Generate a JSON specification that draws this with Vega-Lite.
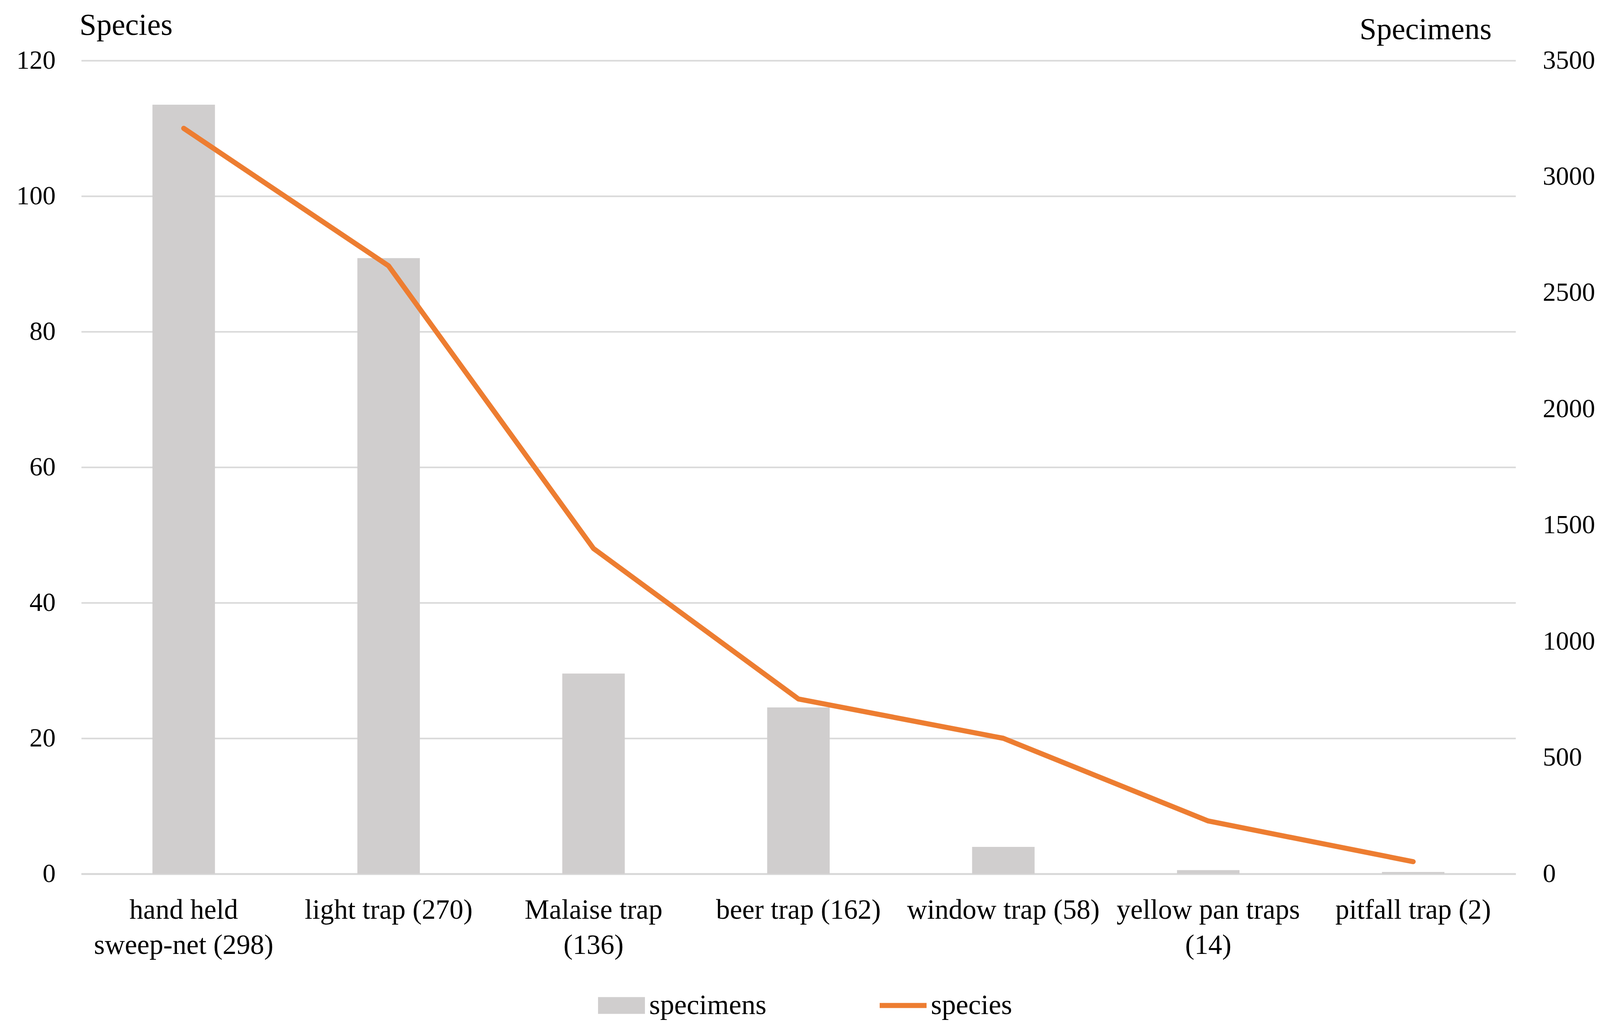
{
  "$schema": "https://vega.github.io/schema/vega-lite/v6.json",
  "width": 3672,
  "height": 2082,
  "autosize": {"type": "none"},
  "padding": {"left": 208, "top": 155, "right": 230, "bottom": 410},
  "background": "#ffffff",
  "data": {
    "values": [
      {"trap": "hand held|sweep-net (298)", "specimens": 3310, "species": 110},
      {"trap": "light trap (270)", "specimens": 2650, "species": 89.7},
      {"trap": "Malaise trap|(136)", "specimens": 862, "species": 48},
      {"trap": "beer trap (162)", "specimens": 716, "species": 25.8},
      {"trap": "window trap (58)", "specimens": 116, "species": 20},
      {"trap": "yellow pan traps|(14)", "specimens": 16, "species": 7.8},
      {"trap": "pitfall trap (2)", "specimens": 8, "species": 1.8}
    ]
  },
  "encoding": {
    "x": {
      "field": "trap",
      "type": "nominal",
      "sort": null,
      "scale": {"paddingInner": 0.695, "paddingOuter": 0.3475},
      "axis": {
        "title": null,
        "labelAngle": 0,
        "labelExpr": "split(datum.label, '|')",
        "labelFont": "Liberation Serif",
        "labelFontSize": 71,
        "labelColor": "#000000",
        "labelBaseline": "top",
        "labelLineHeight": 90,
        "labelPadding": 58,
        "labelLimit": 2000,
        "labelOverlap": false,
        "labelBound": false,
        "ticks": false,
        "grid": false,
        "domainColor": "#D9D9D9",
        "domainWidth": 5
      }
    }
  },
  "layer": [
    {
      "mark": {"type": "bar"},
      "encoding": {
        "y": {
          "field": "specimens",
          "type": "quantitative",
          "scale": {"domain": [0, 3500], "nice": false},
          "axis": {
            "orient": "right",
            "values": [0, 500, 1000, 1500, 2000, 2500, 3000, 3500],
            "format": "d",
            "grid": false,
            "domain": false,
            "ticks": false,
            "labelFont": "Liberation Serif",
            "labelFontSize": 67,
            "labelColor": "#000000",
            "labelPadding": 69,
            "labelAlign": "left",
            "title": "Specimens",
            "titleAngle": 0,
            "titleFont": "Liberation Serif",
            "titleFontSize": 78,
            "titleFontWeight": "normal",
            "titleColor": "#000000",
            "titleAlign": "right",
            "titleBaseline": "alphabetic",
            "titleX": -62,
            "titleY": -56
          }
        },
        "color": {
          "datum": "specimens",
          "scale": {"domain": ["specimens", "species"], "range": ["#D0CECE", "#ED7D31"]},
          "legend": {
            "orient": "none",
            "direction": "horizontal",
            "legendX": 1323,
            "legendY": 2359,
            "title": null,
            "padding": 0,
            "symbolSize": 14400,
            "symbolStrokeWidth": 0,
            "labelFont": "Liberation Serif",
            "labelFontSize": 72,
            "labelColor": "#000000",
            "labelOffset": 11,
            "columnPadding": 290,
            "labelLimit": 1000,
            "encode": {
              "symbols": {
                "update": {
                  "shape": {"signal": "datum.value === 'species' ? 'M-1,-0.11H1V0.11H-1Z' : 'M-1,-0.36H1V0.36H-1Z'"},
                  "fill": {"signal": "datum.value === 'species' ? '#ED7D31' : '#D0CECE'"},
                  "stroke": {"value": "transparent"},
                  "opacity": {"value": 1},
                  "fillOpacity": {"value": 1}
                }
              }
            }
          }
        }
      }
    },
    {
      "mark": {"type": "line", "strokeWidth": 13, "strokeJoin": "round", "strokeCap": "round"},
      "encoding": {
        "x": {"field": "trap", "type": "nominal", "sort": null, "bandPosition": 0.5},
        "y": {
          "field": "species",
          "type": "quantitative",
          "scale": {"domain": [0, 120], "nice": false},
          "axis": {
            "orient": "left",
            "values": [0, 20, 40, 60, 80, 100, 120],
            "grid": true,
            "gridColor": "#D9D9D9",
            "gridWidth": 4,
            "domain": false,
            "ticks": false,
            "labelFont": "Liberation Serif",
            "labelFontSize": 67,
            "labelColor": "#000000",
            "labelPadding": 66,
            "title": "Species",
            "titleAngle": 0,
            "titleFont": "Liberation Serif",
            "titleFontSize": 78,
            "titleFontWeight": "normal",
            "titleColor": "#000000",
            "titleAlign": "left",
            "titleBaseline": "alphabetic",
            "titleX": -5,
            "titleY": -67
          }
        },
        "color": {"datum": "species"}
      }
    }
  ],
  "resolve": {"scale": {"y": "independent"}},
  "config": {"view": {"stroke": null}}
}
